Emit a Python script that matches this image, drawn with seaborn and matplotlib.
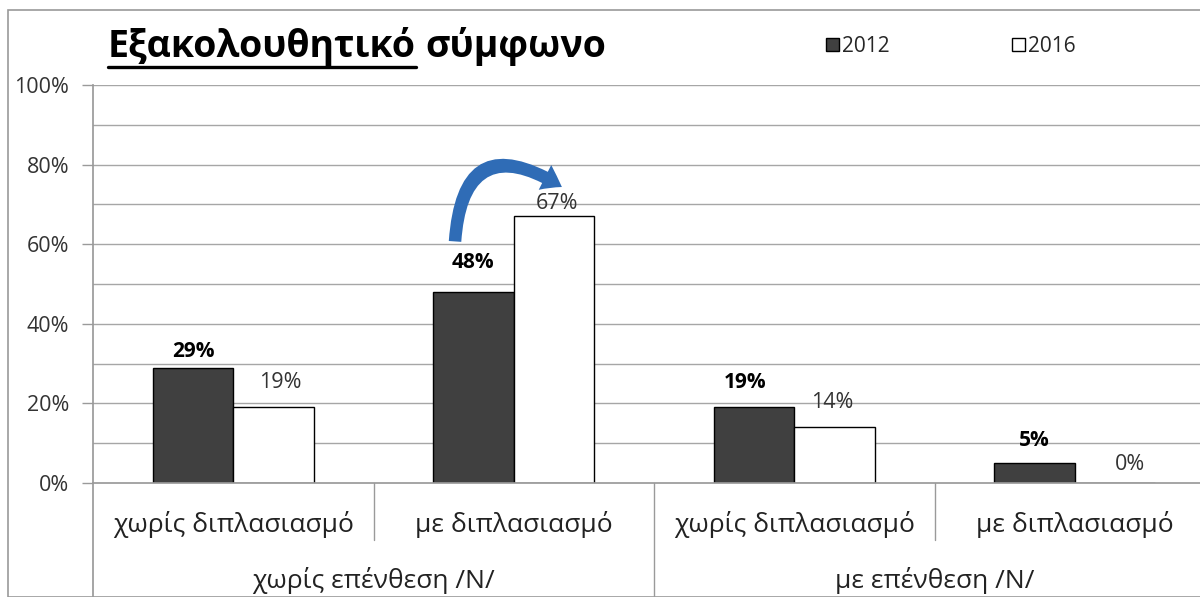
import matplotlib
matplotlib.use("Agg")
import matplotlib.pyplot as plt
import seaborn as sns
import pandas as pd
from matplotlib.patches import FancyArrowPatch, Rectangle, Patch
from matplotlib.lines import Line2D

# ---- data ----
subcategories = ["χωρίς διπλασιασμό", "με διπλασιασμό", "χωρίς διπλασιασμό", "με διπλασιασμό"]
groups = ["χωρίς επένθεση /Ν/", "με επένθεση /Ν/"]
years = ["2012", "2016"]
values_2012 = [29, 48, 19, 5]
values_2016 = [19, 67, 14, 0]
yticks = [0, 20, 40, 60, 80, 100]
ytick_labels = ["0%", "20%", "40%", "60%", "80%", "100%"]
title_underlined = "Εξακολουθητικό"
title_rest = "σύμφωνο"

# label nudges in pixels (dx, dy above bar top) per year
label_nudge = {
    "2012": [(0, 16), (0, 29), (-9, 25), (0, 23)],
    "2016": [(7, 25), (3, 13), (-2, 25), (15, 18)],
}

sns.set_theme(style="white")
plt.rcParams["font.family"] = ["Open Sans", "DejaVu Sans"]

slot = list(range(len(subcategories)))
df = pd.DataFrame({
    "slot": slot * 2,
    "year": [years[0]] * 4 + [years[1]] * 4,
    "value": values_2012 + values_2016,
})

W, H = 1200, 597
fig = plt.figure(figsize=(W / 100, H / 100), dpi=100)
fig.patch.set_facecolor("white")
fig.patches.append(Rectangle((8 / W, 0), 1.2, 1 - 10 / H, transform=fig.transFigure,
                             fill=False, edgecolor="#9a9a9a", linewidth=1.2))

ax = fig.add_axes([93 / W, 1 - 483 / H, (4 * 280.5) / W, (483 - 85) / H])
colors = {"2012": "#404040", "2016": "#ffffff"}
sns.barplot(data=df, x="slot", y="value", hue="year", hue_order=years, palette=colors,
            width=0.575, edgecolor="black", linewidth=1.0, ax=ax, legend=False,
            saturation=1, order=slot)

ax.set_xlim(-0.5, 3.5)
ax.set_ylim(0, 100)
ax.set_xlabel("")
ax.set_ylabel("")
ax.set_xticks([])
ax.set_yticks(yticks)
ax.set_yticklabels(ytick_labels, fontsize=15.5, color="#333333")
ax.tick_params(axis="y", length=8, width=1, color="#9a9a9a", pad=9, left=True)
for y in range(10, 101, 10):
    ax.axhline(y, color="#a6a6a6", linewidth=1.0, zorder=0)
for s in ["top", "right"]:
    ax.spines[s].set_visible(False)
ax.spines["left"].set_color("#9a9a9a")
ax.spines["bottom"].set_color("#9a9a9a")
ax.spines["left"].set_bounds(-30, 100)
ax.set_axisbelow(True)

# value labels
for cont, year in zip(ax.containers, years):
    bold = year == "2012"
    for bar, v, (dx, dy) in zip(cont.patches, cont.datavalues, label_nudge[year]):
        ax.annotate(f"{v:.0f}%", xy=(bar.get_x() + bar.get_width() / 2, v),
                    xytext=(dx * 0.72, dy * 0.72), textcoords="offset points",
                    ha="center", va="center",
                    fontsize=15 if bold else 15.5,
                    fontweight="bold" if bold else "normal",
                    color="black" if bold else "#333333")

# hierarchical category axis
px = 100.0 / (483 - 85)  # data units per pixel vertically
for i, name in enumerate(subcategories):
    ax.text(i, -41 * px, name, ha="center", va="center", fontsize=19, color="#222222",
            clip_on=False)
for xb in [0.5, 2.5]:
    ax.plot([xb, xb], [0, -57 * px], color="#9a9a9a", linewidth=1, clip_on=False)
ax.plot([1.5, 1.5], [0, -130 * px], color="#9a9a9a", linewidth=1, clip_on=False)
for j, g in enumerate(groups):
    ax.text(0.5 + 2 * j, -98 * px, g, ha="center", va="center", fontsize=19,
            color="#222222", clip_on=False)

# curved arrow showing the rise between years
arrow = FancyArrowPatch((0.79, 60), (1.18, 74), connectionstyle="arc3,rad=-0.85",
                        arrowstyle="simple,head_width=20,head_length=14,tail_width=9",
                        color="#2f6cb6", linewidth=0, zorder=5, mutation_scale=1)
ax.add_patch(arrow)

# title with underlined first word
t1 = fig.text(108 / W, 1 - 47 / H, title_underlined, fontsize=27, fontweight="bold",
              ha="left", va="center", color="black")
fig.canvas.draw()
r = fig.canvas.get_renderer()
bb = t1.get_window_extent(r)
fig.text(bb.x1 / W + 9 / W, 1 - 47 / H, title_rest, fontsize=27, fontweight="bold",
         ha="left", va="center", color="black")
uy = (H - 67) / H
fig.add_artist(Line2D([bb.x0 / W, bb.x1 / W], [uy, uy], transform=fig.transFigure,
                      color="black", linewidth=2.4))

# legend, one entry per year
for year, xpos in zip(years, [826, 1012]):
    h = Patch(facecolor=colors[year], edgecolor="black", linewidth=1)
    fig.legend([h], [year], loc="center left", bbox_to_anchor=(xpos / W, 1 - 46 / H),
               frameon=False, fontsize=15, handlelength=0.6, handleheight=0.6,
               handletextpad=0.15, borderpad=0, borderaxespad=0)

fig.savefig("out.png", dpi=100)
